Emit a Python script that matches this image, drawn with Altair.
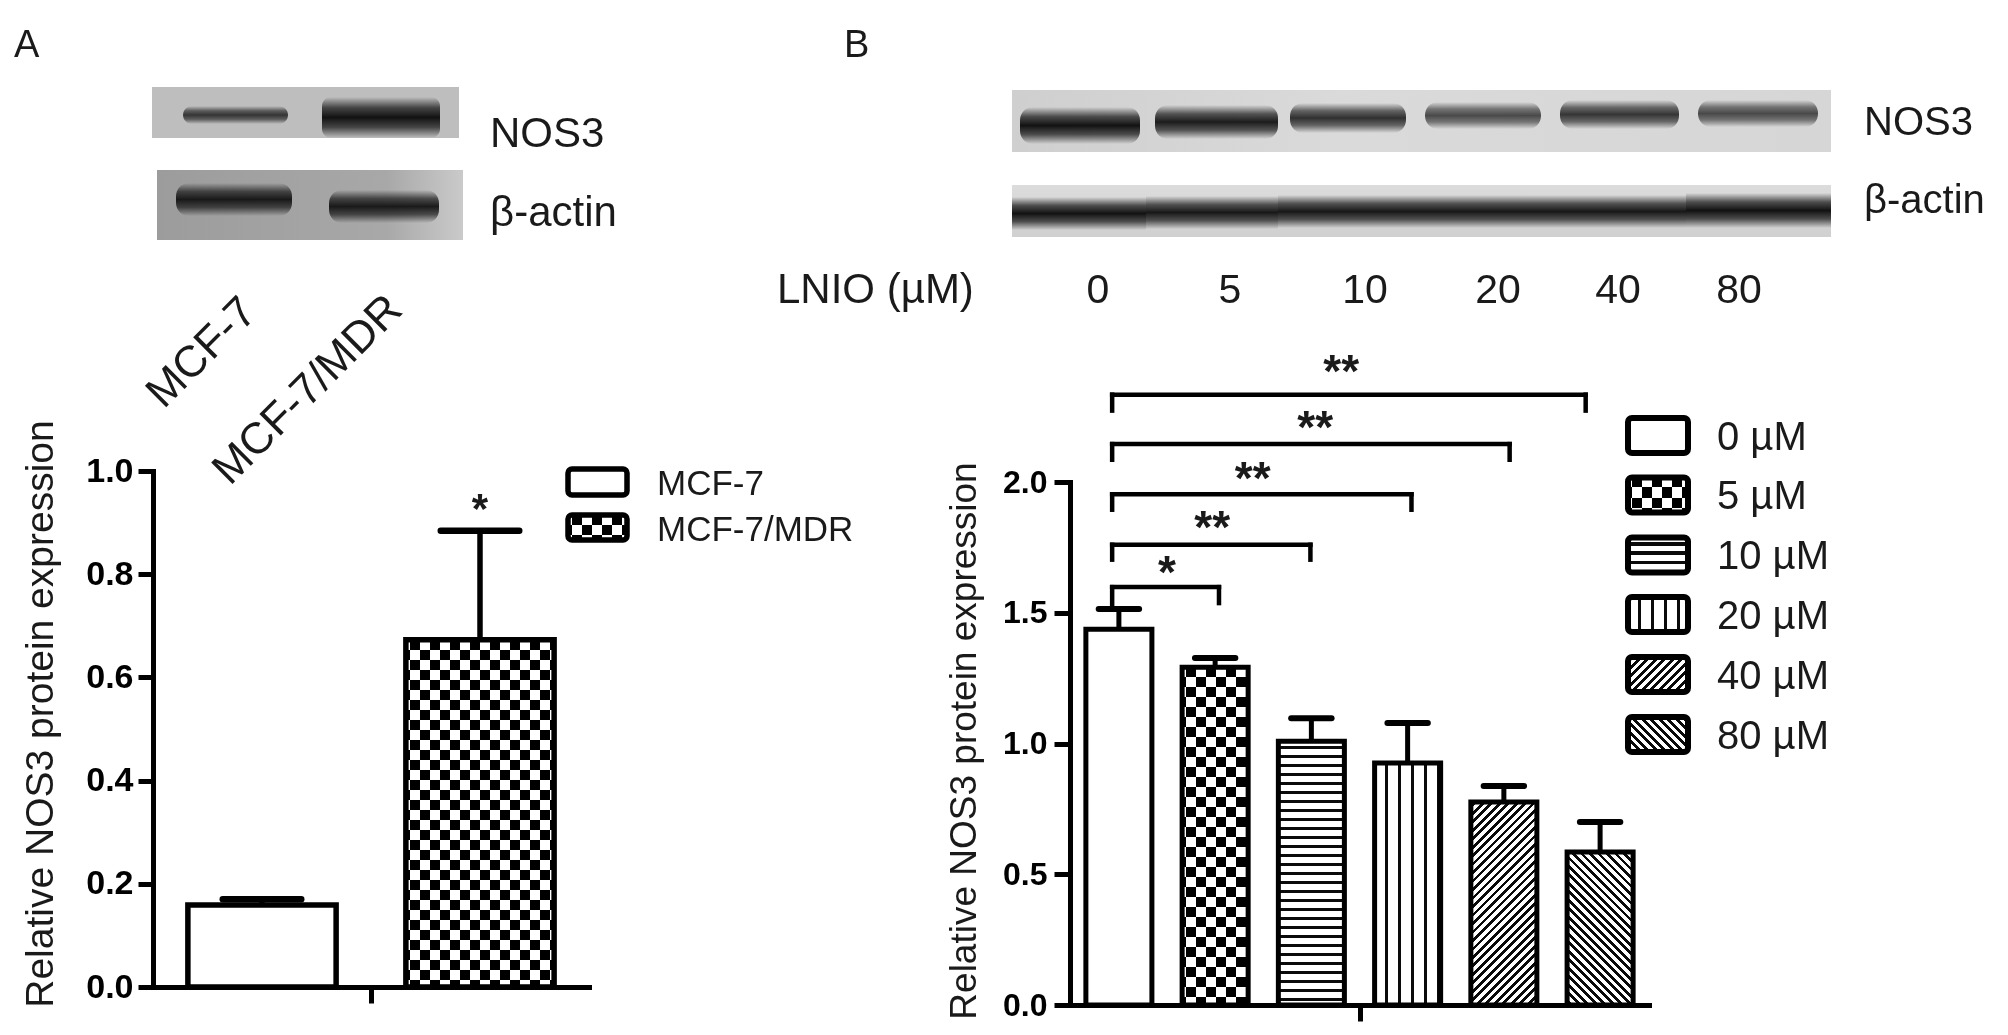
import math
import altair as alt
import pandas as pd

# ---------------- data ----------------
A_GROUPS = ["MCF-7", "MCF-7/MDR"]
A_MEAN = [0.159, 0.673]
A_UPPER = [0.170, 0.884]
A_STAR_TEXT = ["*"]
A_STAR_X = [1]
A_STAR_Y = [0.933]
A_YTICKS = [0.0, 0.2, 0.4, 0.6, 0.8, 1.0]

B_GROUPS = ["0 µM", "5 µM", "10 µM", "20 µM", "40 µM", "80 µM"]
B_MEAN = [1.437, 1.292, 1.009, 0.925, 0.776, 0.585]
B_UPPER = [1.514, 1.327, 1.097, 1.078, 0.837, 0.700]
B_YTICKS = [0.0, 0.5, 1.0, 1.5, 2.0]

BR_FROM = [-0.07, -0.07, -0.07, -0.07, -0.07]
BR_TO = [1.04, 1.99, 3.04, 4.06, 4.85]
BR_LEVEL = [1.598, 1.760, 1.953, 2.145, 2.334]
BR_LEFT_END = [1.514, 1.703, 1.894, 2.085, 2.273]
BR_RIGHT_END = [1.537, 1.703, 1.894, 2.085, 2.273]
BR_TEXT = ["*", "**", "**", "**", "**"]
BR_TEXT_X = [0.50, 0.97, 1.39, 2.04, 2.31]
BR_TEXT_Y = [1.667, 1.839, 2.027, 2.222, 2.436]

LNIO_DOSES = ["0", "5", "10", "20", "40", "80"]
A_NOS3_BAND = [0.80, 1.0]
A_ACTIN_BAND = [0.95, 0.95]
B_NOS3_BAND = [1.0, 0.95, 0.85, 0.72, 0.82, 0.72]
B_ACTIN_BAND = [1.0, 0.97, 0.97, 0.97, 0.97, 1.0]

Y_TITLE = "Relative NOS3 protein expression"

# ---------------- layout (full-page pixel coordinates) ----------------
OFF = 8
W, H = 2008 - 2 * OFF, 1035 - 2 * OFF


def P(v):
    return v - OFF


FONT = "Liberation Sans"
INK = "#1a1a1a"
BLACK = "#000000"

A_SX = {"domain": [-0.5, 1.5], "range": [P(153), P(589)]}
A_SY = {"domain": [0.0, 1.0], "range": [P(987), P(471)]}
B_SX = {"domain": [-0.508, 5.508], "range": [P(1070), P(1649)]}
B_SY = {"domain": [0.0, 2.0], "range": [P(1005), P(482)]}
A_HALF, B_HALF = 0.34, 0.343
A_CAP, B_CAP = 0.18, 0.21
A_PATTERNS = ["open", "checker"]
B_PATTERNS = ["open", "checker", "hlines", "vlines", "up", "down"]

A_NOS3_BG = (152, 459, 87, 138)
A_ACTIN_BG = (157, 463, 170, 240)
A_NOS3_LANES = [(183, 288, 106, 124), (322, 440, 97, 138)]
A_ACTIN_LANES = [(176, 292, 183, 216), (329, 439, 190, 223)]
B_NOS3_BG = (1012, 1831, 90, 152)
B_ACTIN_BG = (1012, 1831, 185, 237)
B_NOS3_LANES = [(1020, 1140, 107, 144), (1155, 1278, 105, 139), (1290, 1406, 103, 133),
                (1425, 1541, 102, 129), (1560, 1679, 100, 129), (1698, 1818, 100, 127)]
B_ACTIN_LANES = [(1012, 1146, 197, 230), (1146, 1278, 196, 229), (1278, 1412, 195, 228),
                 (1412, 1548, 195, 228), (1548, 1686, 195, 228), (1686, 1831, 193, 228)]

A_LEG_BOX = [(568, 627, 469, 495), (568, 627, 515, 540)]
A_LEG_TEXT_X, A_LEG_TEXT_Y = 657, [483.5, 529.5]
B_LEG_CY = [435.5, 495, 555, 614.5, 674.5, 734.5]
B_LEG_BOX = [(1628, 1688, c - 17.5, c + 17.5) for c in B_LEG_CY]
B_LEG_TEXT_X = 1717


def ppu(s):
    return abs(s["range"][1] - s["range"][0]) / (s["domain"][1] - s["domain"][0])


# ---------------- pattern fills (linear gradients with hard stops) ----------------
def stripe_stops(length, period, frac, phase=0.0, dark="#0a0a0a", light="#ffffff"):
    stops = []
    s = phase - period
    while s < length:
        segs = [(s, s + frac * period, dark), (s + frac * period, s + period, light)]
        for a, b, c in segs:
            a2, b2 = max(a, 0.0), min(b, length)
            if b2 <= a2:
                continue
            stops.append(alt.GradientStop(color=c, offset=round(a2 / length, 6)))
            stops.append(alt.GradientStop(color=c, offset=round(b2 / length, 6)))
        s += period
    return stops


def lin(stops, x1, y1, x2, y2):
    return alt.LinearGradient(gradient="linear", stops=stops, x1=x1, y1=y1, x2=x2, y2=y2)


def diag(w, h, period, frac, up=True):
    a = (w + h) / (w * w + h * h)
    L = (w + h) / math.sqrt(2)
    stops = stripe_stops(L, period, frac, phase=2.0)
    if up:
        return lin(stops, 0, 0, a * w, a * h)
    return lin(stops, 0, 1, a * w, 1 - a * h)


def pattern_fills(kind, w, h):
    if kind == "open":
        return [("#ffffff", None)]
    if kind == "checker":
        return [(lin(stripe_stops(h, 20, 0.5, dark="#000000"), 0, 0, 0, 1), None),
                (lin(stripe_stops(w, 20, 0.5, phase=4, dark="#000000"), 0, 0, 1, 0), "difference")]
    if kind == "hlines":
        return [(lin(stripe_stops(h, 9, 0.34, phase=5), 0, 0, 0, 1), None)]
    if kind == "vlines":
        return [(lin(stripe_stops(w, 13, 0.25, phase=10), 0, 0, 1, 0), None)]
    if kind == "up":
        return [(diag(w, h, 6.0, 0.45, True), None)]
    return [(diag(w, h, 6.0, 0.45, False), None)]


# ---------------- encoding helpers ----------------
def qx(field, s, axis=None):
    return alt.X(field, type="quantitative",
                 scale=alt.Scale(domain=s["domain"], range=s["range"], nice=False, zero=False), axis=axis)


def qy(field, s, axis=None):
    return alt.Y(field, type="quantitative",
                 scale=alt.Scale(domain=s["domain"], range=s["range"], nice=False, zero=False), axis=axis)


def ix(field):
    return alt.X(field, type="quantitative", scale=None, axis=None)


def iy(field):
    return alt.Y(field, type="quantitative", scale=None, axis=None)


def px_rects(boxes, fill, op=None, **mk):
    df = pd.DataFrame({"x": [P(b[0]) for b in boxes], "x2": [P(b[1]) for b in boxes],
                       "y": [P(b[2]) for b in boxes], "y2": [P(b[3]) for b in boxes]})
    enc = dict(x=ix("x"), x2="x2", y=iy("y"), y2="y2")
    if op is not None:
        df["op"] = op
        enc["opacity"] = alt.Opacity("op:Q", scale=None, legend=None)
    return alt.Chart(df).mark_rect(fill=fill, **mk).encode(**enc)


def px_text(texts, xs, ys, **mk):
    df = pd.DataFrame({"t": texts, "x": [P(v) for v in xs], "y": [P(v) for v in ys]})
    kw = dict(font=FONT, color=INK)
    kw.update(mk)
    return alt.Chart(df).mark_text(**kw).encode(x=ix("x"), y=iy("y"), text="t:N")


band_grad = lin([alt.GradientStop(color="rgba(18,18,18,0)", offset=0),
                 alt.GradientStop(color="rgba(18,18,18,0.7)", offset=0.26),
                 alt.GradientStop(color="rgba(18,18,18,1)", offset=0.5),
                 alt.GradientStop(color="rgba(18,18,18,0.7)", offset=0.74),
                 alt.GradientStop(color="rgba(18,18,18,0)", offset=1)], 0, 0, 0, 1)

layers = []

# ---------------- western blots ----------------
layers.append(px_rects([A_NOS3_BG], "#bebebe"))
layers.append(px_rects([A_ACTIN_BG], lin([alt.GradientStop(color="#9c9c9c", offset=0),
                                           alt.GradientStop(color="#a8a8a8", offset=0.75),
                                           alt.GradientStop(color="#cacaca", offset=1)], 0, 0, 1, 0)))
layers.append(px_rects([B_NOS3_BG], lin([alt.GradientStop(color="#cfcfcf", offset=0),
                                          alt.GradientStop(color="#dadada", offset=0.4),
                                          alt.GradientStop(color="#d6d6d6", offset=1)], 0, 0, 1, 0)))
layers.append(px_rects([B_ACTIN_BG], lin([alt.GradientStop(color="#dcdcdc", offset=0),
                                           alt.GradientStop(color="#d0d0d0", offset=1)], 0, 0, 0, 1)))
layers.append(px_rects(A_NOS3_LANES, band_grad, op=A_NOS3_BAND, cornerRadius=9))
layers.append(px_rects(A_ACTIN_LANES, band_grad, op=A_ACTIN_BAND, cornerRadius=13))
layers.append(px_rects(B_NOS3_LANES, band_grad, op=B_NOS3_BAND, cornerRadius=13))
layers.append(px_rects(B_ACTIN_LANES, band_grad, op=B_ACTIN_BAND))

# ---------------- free text ----------------
layers.append(px_text(["A", "B"], [14, 844], [57, 57], fontSize=38, align="left", baseline="alphabetic"))
layers.append(px_text(["NOS3", "β-actin"], [490, 490], [147, 226], fontSize=42, align="left", baseline="alphabetic"))
layers.append(px_text(["NOS3", "β-actin"], [1864, 1864], [135, 213], fontSize=40, align="left", baseline="alphabetic"))
layers.append(px_text(["LNIO (µM)"], [777], [303], fontSize=42, align="left", baseline="alphabetic"))
layers.append(px_text(LNIO_DOSES, [1098, 1230, 1365, 1498, 1618, 1739], [303] * 6, fontSize=41,
                      align="center", baseline="alphabetic"))
layers.append(px_text(A_GROUPS, [202, 308], [353, 390], fontSize=44, angle=315, align="center", baseline="middle"))
layers.append(px_text([Y_TITLE], [41], [714], fontSize=39, angle=270, align="center", baseline="middle"))
layers.append(px_text([Y_TITLE], [965], [741], fontSize=37, angle=270, align="center", baseline="middle"))


# ---------------- bar panels ----------------
def axis_common(**kw):
    d = dict(grid=False, title=None, domainColor=BLACK, domainWidth=5, domainCap="square",
             tickColor=BLACK, tickWidth=5, labelFont=FONT, labelFontWeight="bold", labelColor=BLACK,
             zindex=1)
    d.update(kw)
    return alt.Axis(**d)


def panel(means, uppers, sx, sy, half, cap, patterns, yticks, lab_size, tick_size, lab_pad, err_w):
    n = len(means)
    df = pd.DataFrame({"i": list(range(n)), "mean": means, "upper": uppers})
    df["lo"] = df["i"] - half
    df["hi"] = df["i"] + half
    df["cl"] = df["i"] - cap
    df["cr"] = df["i"] + cap
    df["zero"] = 0.0
    out = []
    xax = axis_common(orient="bottom", offset=sy["range"][0] - H, values=[(n - 1) / 2],
                      labels=False, tickSize=16)
    yax = axis_common(orient="left", offset=-sx["range"][0], values=yticks, format=".1f",
                      tickSize=tick_size, labelFontSize=lab_size, labelPadding=lab_pad)
    out.append(alt.Chart(df).mark_point(opacity=0).encode(x=qx("i", sx, xax), y=qy("mean", sy, yax)))
    xp, yp = ppu(sx), ppu(sy)
    for k in range(n):
        row = df.iloc[[k]]
        w = 2 * half * xp
        h = means[k] * yp
        for fill, blend in pattern_fills(patterns[k], w, h):
            kw = dict(fill=fill, strokeWidth=0)
            if blend:
                kw["blend"] = blend
            out.append(alt.Chart(row).mark_rect(**kw).encode(
                x=qx("lo", sx), x2="hi", y=qy("zero", sy), y2="mean"))
    out.append(alt.Chart(df).mark_rule(color=BLACK, strokeWidth=err_w).encode(
        x=qx("i", sx), y=qy("mean", sy), y2="upper"))
    out.append(alt.Chart(df).mark_rect(fillOpacity=0, stroke=BLACK, strokeWidth=err_w, strokeJoin="miter").encode(
        x=qx("lo", sx), x2="hi", y=qy("zero", sy), y2="mean"))
    out.append(alt.Chart(df).mark_rule(color=BLACK, strokeWidth=err_w + 1, strokeCap="round").encode(
        x=qx("cl", sx), x2="cr", y=qy("upper", sy)))
    return out


layers += panel(A_MEAN, A_UPPER, A_SX, A_SY, A_HALF, A_CAP, A_PATTERNS, A_YTICKS, 34, 15, 5, 5.5)
layers += panel(B_MEAN, B_UPPER, B_SX, B_SY, B_HALF, B_CAP, B_PATTERNS, B_YTICKS, 32, 16, 7, 5)

# significance markers
star_a = pd.DataFrame({"x": A_STAR_X, "y": A_STAR_Y, "t": A_STAR_TEXT})
layers.append(alt.Chart(star_a).mark_text(font=FONT, fontWeight="bold", fontSize=42, color=INK,
                                          align="center", baseline="alphabetic", dy=17).encode(
    x=qx("x", A_SX), y=qy("y", A_SY), text="t:N"))

br = pd.DataFrame({"x1": BR_FROM, "x2": BR_TO, "y": BR_LEVEL, "yl": BR_LEFT_END, "yr": BR_RIGHT_END,
                   "t": BR_TEXT, "tx": BR_TEXT_X, "ty": BR_TEXT_Y})
rule_kw = dict(color=BLACK, strokeWidth=4.5, strokeCap="square")
layers.append(alt.Chart(br).mark_rule(**rule_kw).encode(x=qx("x1", B_SX), x2="x2", y=qy("y", B_SY)))
layers.append(alt.Chart(br).mark_rule(**rule_kw).encode(x=qx("x1", B_SX), y=qy("yl", B_SY), y2="y"))
layers.append(alt.Chart(br).mark_rule(**rule_kw).encode(x=qx("x2", B_SX), y=qy("yr", B_SY), y2="y"))
layers.append(alt.Chart(br).mark_text(font=FONT, fontWeight="bold", fontSize=46, color=INK,
                                      align="center", baseline="alphabetic", dy=19).encode(
    x=qx("tx", B_SX), y=qy("ty", B_SY), text="t:N"))


# ---------------- legends ----------------
def legend(boxes, patterns, stroke_w):
    out = []
    for box, kind in zip(boxes, patterns):
        w, h = box[1] - box[0], box[3] - box[2]
        for fill, blend in pattern_fills(kind, w, h):
            kw = dict(strokeWidth=0, cornerRadius=3)
            if blend:
                kw["blend"] = blend
            out.append(px_rects([box], fill, **kw))
    df = pd.DataFrame({"x": [P(b[0]) for b in boxes], "x2": [P(b[1]) for b in boxes],
                       "y": [P(b[2]) for b in boxes], "y2": [P(b[3]) for b in boxes]})
    out.append(alt.Chart(df).mark_rect(fillOpacity=0, stroke=BLACK, strokeWidth=stroke_w, cornerRadius=4).encode(
        x=ix("x"), x2="x2", y=iy("y"), y2="y2"))
    return out


layers += legend(A_LEG_BOX, A_PATTERNS, 5.5)
layers.append(px_text(A_GROUPS, [A_LEG_TEXT_X] * 2, A_LEG_TEXT_Y, fontSize=35, align="left", baseline="middle"))
layers += legend(B_LEG_BOX, B_PATTERNS, 6)
layers.append(px_text(B_GROUPS, [B_LEG_TEXT_X] * 6, [c + 2.4 for c in B_LEG_CY], fontSize=40,
                      align="left", baseline="middle"))

chart = (
    alt.layer(*layers)
    .resolve_scale(x="independent", y="independent")
    .properties(width=W, height=H, padding=0, autosize=alt.AutoSizeParams(type="none"),
                background="#ffffff")
    .configure_view(stroke=None)
)

chart.save("out.html", embed_options={"renderer": "svg", "actions": False})
